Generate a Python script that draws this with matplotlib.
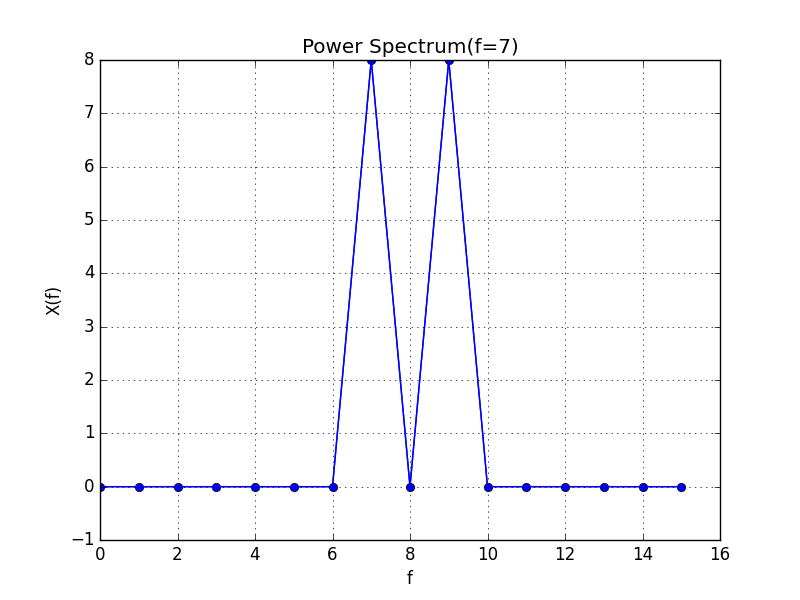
import matplotlib
matplotlib.use("Agg")
import matplotlib.pyplot as plt

# Spectre de puissance
freqs = list(range(16))
power = [0, 0, 0, 0, 0, 0, 0, 8, 0, 8, 0, 0, 0, 0, 0, 0]

plt.style.use("classic")
fig = plt.figure(figsize=(8, 6), dpi=100)
ax = fig.add_subplot(111)
ax.plot(freqs, power, "b-o")
ax.plot(freqs, power, "b-")  # tracé superposé
ax.set_title("Power Spectrum(f=7)")
ax.set_xlabel("f")
ax.set_ylabel("X(f)")
ax.set_xlim(0, 16)
ax.set_ylim(-1, 8)
ax.grid(True)
fig.savefig("out.png", dpi=100)
